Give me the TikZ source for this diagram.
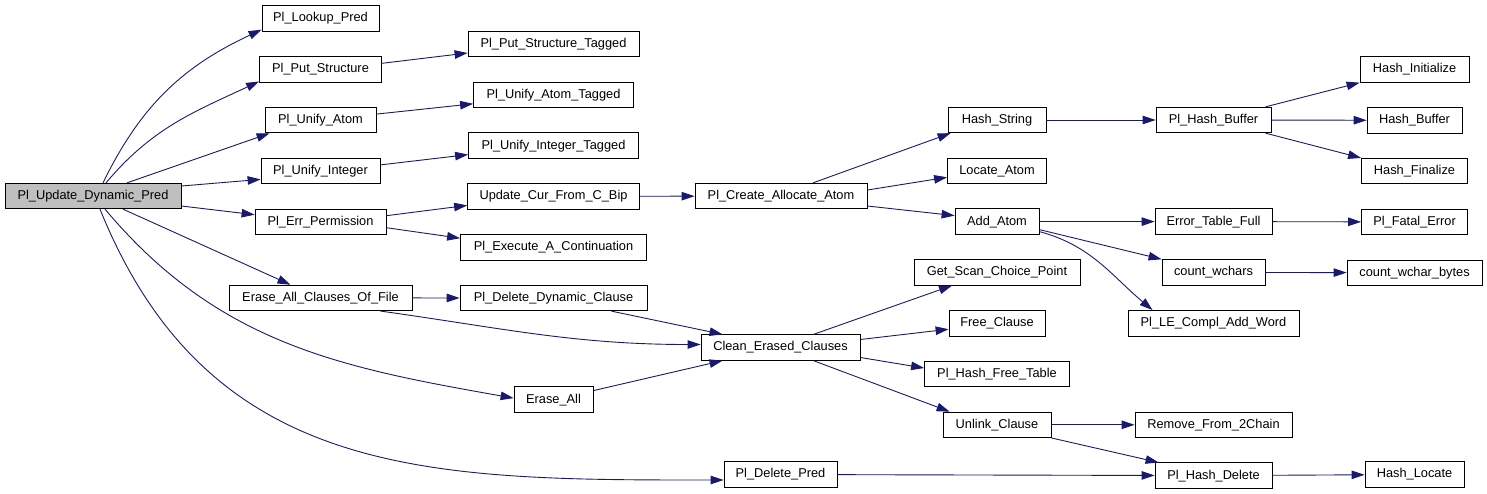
\documentclass[tikz,border=0pt]{standalone}
\usepackage{fontspec}
\usepackage{tikz}
\usetikzlibrary{arrows.meta,positioning}
\newfontfamily\graphfont{Liberation Sans}
\definecolor{edgeblue}{HTML}{191970}
\definecolor{rootgray}{HTML}{BFBFBF}

\begin{document}
\begin{tikzpicture}[x=1pt, y=1pt, node distance=50.8pt,
    fn/.style={draw, line width=0.8pt, fill=white, minimum height=25.5pt, inner sep=0pt,
      text height=9.6pt, text depth=2.8pt, font={\graphfont\fontsize{12.8pt}{15pt}\selectfont}},
    call/.style={draw=edgeblue, line width=0.9pt, -{Triangle[length=13pt,width=8.5pt]}}]
  \useasboundingbox (0,0) rectangle (1487,-493);

  % caller
  \node[fn, fill=rootgray, minimum width=176pt] (root) at (93,-196) {Pl\_Update\_Dynamic\_Pred};

  % first level
  \node[fn, minimum width=117pt] (lookup) at (320.5,-18.5) {Pl\_Lookup\_Pred};
  \node[fn, minimum width=122pt] (putstruct) [below of=lookup] {Pl\_Put\_Structure};
  \node[fn, minimum width=111pt] (unifyatom) [below of=putstruct] {Pl\_Unify\_Atom};
  \node[fn, minimum width=119pt] (unifyint) [below of=unifyatom] {Pl\_Unify\_Integer};
  \node[fn, minimum width=131pt] (errperm) [below of=unifyint] {Pl\_Err\_Permission};
  \node[fn, minimum width=183pt] (eraseallfile) [below of=errperm, yshift=-25.4pt] {Erase\_All\_Clauses\_Of\_File};

  % second level
  \node[fn, minimum width=171pt] (putstructtagged) at (553.5,-44) {Pl\_Put\_Structure\_Tagged};
  \node[fn, minimum width=160pt] (unifyatomtagged) [below of=putstructtagged] {Pl\_Unify\_Atom\_Tagged};
  \node[fn, minimum width=170pt] (unifyinttagged) [below of=unifyatomtagged] {Pl\_Unify\_Integer\_Tagged};
  \node[fn, minimum width=172pt] (updatecur) [below of=unifyinttagged] {Update\_Cur\_From\_C\_Bip};
  \node[fn, minimum width=186pt] (executecont) [below of=updatecur] {Pl\_Execute\_A\_Continuation};
  \node[fn, minimum width=187pt] (deletedyn) [below of=executecont] {Pl\_Delete\_Dynamic\_Clause};
  \node[fn, minimum width=79pt] (eraseall) [below of=deletedyn, yshift=-50.8pt] {Erase\_All};

  % third level
  \node[fn, minimum width=172pt] (createatom) at (781,-196) {Pl\_Create\_Allocate\_Atom};
  \node[fn, minimum width=159pt] (clean) at (780.5,-347.5) {Clean\_Erased\_Clauses};
  \node[fn, minimum width=113pt] (deletepred) at (780.5,-474.5) {Pl\_Delete\_Pred};

  % fourth level
  \node[fn, minimum width=98pt] (hashstring) at (997,-120) {Hash\_String};
  \node[fn, minimum width=99pt] (locateatom) [below of=hashstring] {Locate\_Atom};
  \node[fn, minimum width=84pt] (addatom) [below of=locateatom] {Add\_Atom};
  \node[fn, minimum width=166pt] (getscan) [below of=addatom] {Get\_Scan\_Choice\_Point};
  \node[fn, minimum width=96pt] (freeclause) [below of=getscan] {Free\_Clause};
  \node[fn, minimum width=145pt] (hashfreetable) [below of=freeclause] {Pl\_Hash\_Free\_Table};
  \node[fn, minimum width=108pt] (unlink) [below of=hashfreetable] {Unlink\_Clause};

  % fifth level
  \node[fn, minimum width=115pt] (hashbuffer) at (1213.5,-120) {Pl\_Hash\_Buffer};
  \node[fn, minimum width=117pt] (errtable) [below of=hashbuffer, yshift=-50.8pt] {Error\_Table\_Full};
  \node[fn, minimum width=103pt] (countwchars) [below of=errtable] {count\_wchars};
  \node[fn, minimum width=171pt] (lecompl) [below of=countwchars] {Pl\_LE\_Compl\_Add\_Word};
  \node[fn, minimum width=157pt] (remove2chain) [below of=lecompl, yshift=-50.8pt] {Remove\_From\_2Chain};
  \node[fn, minimum width=117pt] (hashdelete) [below of=remove2chain] {Pl\_Hash\_Delete};

  % sixth level
  \node[fn, minimum width=109pt] (hashinit) at (1414.5,-69.5) {Hash\_Initialize};
  \node[fn, minimum width=95pt] (hashbuf) [below of=hashinit] {Hash\_Buffer};
  \node[fn, minimum width=106pt] (hashfin) [below of=hashbuf] {Hash\_Finalize};
  \node[fn, minimum width=106pt] (fatalerror) [below of=hashfin] {Pl\_Fatal\_Error};
  \node[fn, minimum width=135pt] (countwcharbytes) [below of=fatalerror] {count\_wchar\_bytes};
  \node[fn, minimum width=99pt] (hashlocate) at (1414.5,-474.5) {Hash\_Locate};

  % Arrows
  \draw[call] ([xshift=10pt]root.north) to[out=64,in=205] ([yshift=2pt]lookup.south west);
  \draw[call] ([xshift=13pt]root.north) to[out=50,in=205] ([yshift=1pt]putstruct.south west);
  \draw[call] ([xshift=34pt]root.north) -- ([xshift=5pt]unifyatom.south west);
  \draw[call] ([yshift=10pt]root.east) -- ([yshift=-8.5pt]unifyint.west);
  \draw[call] ([yshift=-10pt]root.east) -- ([yshift=7pt]errperm.west);
  \draw[call] ([xshift=30pt]root.south) -- ([xshift=-30pt]eraseallfile.north);
  \draw[call] ([xshift=12pt]root.south) to[out=-50,in=170] ([yshift=1.5pt]eraseall.west);
  \draw[call] ([xshift=7pt]root.south) to[out=-68,in=180,looseness=1.1] ([yshift=-5.5pt]deletepred.west);

  \draw[call] ([yshift=6pt]putstruct.east) -- ([yshift=-9pt]putstructtagged.west);
  \draw[call] ([yshift=6pt]unifyatom.east) -- ([yshift=-9pt]unifyatomtagged.west);
  \draw[call] ([yshift=6pt]unifyint.east) -- ([yshift=-9pt]unifyinttagged.west);
  \draw[call] ([yshift=6pt]errperm.east) -- ([yshift=-9pt]updatecur.west);
  \draw[call] ([yshift=-6pt]errperm.east) -- ([yshift=9pt]executecont.west);
  \draw[call] (eraseallfile) -- (deletedyn);
  \draw[call] ([xshift=60pt]eraseallfile.south) to[out=-8,in=180] ([yshift=3pt]clean.west);

  \draw[call] ([xshift=58pt]deletedyn.south) -- ([xshift=-58pt]clean.north);
  \draw[call] ([yshift=9pt]eraseall.east) -- ([xshift=-58pt]clean.south);
  \draw[call] (updatecur) -- (createatom);

  \draw[call] ([xshift=32pt]createatom.north) -- ([xshift=3pt]hashstring.south west);
  \draw[call] ([yshift=6pt]createatom.east) -- ([yshift=-6.5pt]locateatom.west);
  \draw[call] ([yshift=-10pt]createatom.east) -- ([yshift=6pt]addatom.west);

  \draw[call] ([xshift=33pt]clean.north) -- ([xshift=-45pt]getscan.south);
  \draw[call] ([yshift=8pt]clean.east) -- ([yshift=-6pt]freeclause.west);
  \draw[call] ([yshift=-10pt]clean.east) -- ([yshift=6pt]hashfreetable.west);
  \draw[call] ([xshift=33pt]clean.south) -- ([xshift=7pt]unlink.north west);
  \draw[call] (deletepred) -- (hashdelete);

  \draw[call] (hashstring) -- (hashbuffer);
  \draw[call] (addatom) -- (errtable);
  \draw[call] ([yshift=-8pt]addatom.east) -- (countwchars.north west);
  \draw[call] ([yshift=-10pt]addatom.east) to[out=-15,in=140] ([xshift=-61pt]lecompl.north);
  \draw[call] (unlink) -- (remove2chain);
  \draw[call] (unlink.south east) -- ([xshift=4pt]hashdelete.north west);

  \draw[call] ([xshift=52pt]hashbuffer.north) -- (hashinit.south west);
  \draw[call] (hashbuffer) -- (hashbuf);
  \draw[call] ([xshift=52pt]hashbuffer.south) -- (hashfin.north west);
  \draw[call] (errtable) -- (fatalerror);
  \draw[call] (countwchars) -- (countwcharbytes);
  \draw[call] (hashdelete) -- (hashlocate);
\end{tikzpicture}
\end{document}
